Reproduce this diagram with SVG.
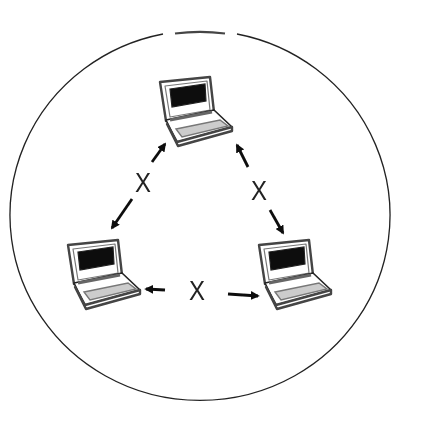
<svg xmlns="http://www.w3.org/2000/svg" width="429" height="422" viewBox="0 0 429 422">
<defs>
<style>
.ring{fill:none;stroke:#222;stroke-width:1.3}
.arrow{fill:none;stroke:#111;stroke-width:2.8;marker-end:url(#head)}
.lbl{font-family:"Liberation Sans",sans-serif;font-size:27px;fill:#222;text-anchor:middle}
.ln{fill:#fff;stroke:#222;stroke-width:1.6;stroke-linejoin:round}
.thick{fill:#fff;stroke:#444;stroke-width:2.4;stroke-linejoin:round}
.in{fill:none;stroke:#777;stroke-width:1.2;stroke-linejoin:round}
.scr{fill:#0a0a0a;stroke:#222;stroke-width:1.2}
.key{fill:#ccc;stroke:#777;stroke-width:1.4}
</style>
<filter id="soft" x="-10%" y="-10%" width="120%" height="120%"><feGaussianBlur stdDeviation="0.7"/></filter>
<marker id="head" viewBox="0 0 10 10" refX="8" refY="5" markerWidth="3.2" markerHeight="3.2" orient="auto"><path d="M0 0L10 5L0 10z" fill="#111"/></marker>
<g id="laptop">
<path class="thick" d="M160 82L210 77L214 112L166 121z"/>
<path class="in" d="M165 86L207 81L210 110L170 117z"/>
<path class="scr" d="M170 89L205 84L206 101L172 107z"/>
<path class="ln" d="M166 120L214 110L232 127L177 142z"/>
<path class="key" d="M176 129L220 120L228 126L182 137z"/>
<path d="M170 120L212 112" fill="none" stroke="#666" stroke-width="3"/>
<path class="thick" d="M167 124L177 142L232 127L232 131L178 146z"/>
</g>
</defs>
<rect width="429" height="422" fill="#fff"/>
<g filter="url(#soft)">
<g id="boundary">
<path class="ring" d="M163 34A190 185 0 1 0 237 34"/>
<path class="ring" style="stroke-width:2.2;stroke:#444" d="M175 33.5A190 185 0 0 1 225 33.5"/>
</g>
<g id="connectors">
<path class="arrow" d="M152 162L165 144"/>
<path class="arrow" d="M132 199L112 228"/>
<path class="arrow" d="M248 167L237 145"/>
<path class="arrow" d="M270 210L283 233"/>
<path class="arrow" d="M165 290L146 289"/>
<path class="arrow" d="M228 294L258 296"/>
</g>
<g id="node-top"><use href="#laptop"/></g>
<g id="node-left"><use href="#laptop" transform="translate(-92 163)"/></g>
<g id="node-right"><use href="#laptop" transform="translate(99 163)"/></g>
<g id="labels">
<text class="lbl" x="143" y="192" textLength="16" lengthAdjust="spacingAndGlyphs">X</text>
<text class="lbl" x="259" y="200" textLength="16" lengthAdjust="spacingAndGlyphs">X</text>
<text class="lbl" x="197" y="300" textLength="16" lengthAdjust="spacingAndGlyphs">X</text>
</g>
</g>
</svg>
